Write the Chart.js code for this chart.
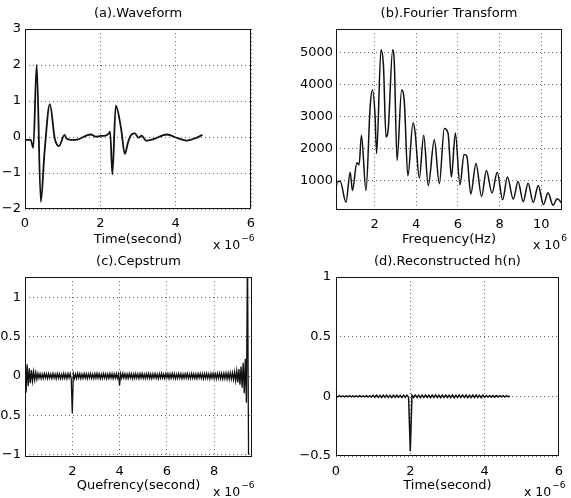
<!DOCTYPE html>
<html><head><meta charset="utf-8">
<script src="https://cdn.jsdelivr.net/npm/chart.js@4/dist/chart.umd.min.js"></script>
<style>
html,body{margin:0;padding:0;background:#fff;}
#wrap{position:relative;width:571px;height:498px;overflow:hidden;background:#fff;}
#wrap canvas{position:absolute;left:0;top:0;}
</style></head><body>
<div id="wrap">
<canvas id="ca" width="571" height="498"></canvas>
<canvas id="cb" width="571" height="498"></canvas>
<canvas id="cc" width="571" height="498"></canvas>
<canvas id="cd" width="571" height="498"></canvas>
</div>
<script>
// ---------- (a) Waveform : time in 1e-6 s ----------
const waveTime = [0, 0.15, 0.22, 0.31, 0.42, 0.52, 0.66, 0.79, 0.9, 1.05, 1.1, 1.21, 1.39, 1.74, 1.88, 2.01, 2.14, 2.23, 2.26, 2.32, 2.41, 2.55, 2.65, 2.74, 2.83, 2.92, 3.01, 3.1, 3.21, 3.41, 3.76, 4.07, 4.29, 4.51, 4.71];
const waveAmp  = [-0.08, -0.08, -0.3, 2.0, -1.8, -0.4, 0.91, -0.04, -0.25, 0.06, -0.04, -0.08, -0.07, 0.07, 0.01, 0.03, 0.04, 0.1, 0.15, -1.04, 0.87, 0.24, -0.47, -0.13, 0.07, 0.1, -0.02, 0.04, -0.1, -0.06, 0.07, -0.04, -0.1, -0.04, 0.06];
const waveXTicks = [0, 2, 4, 6];
const waveXLabels = ['0', '2', '4', '6'];
const waveYTicks = [-2, -1, 0, 1, 2, 3];
const waveYLabels = ['\u22122', '\u22121', '0', '1', '2', '3'];

// ---------- (b) Fourier Transform : frequency in 1e6 Hz ----------
const specFreq = [0.15, 0.19, 0.35, 0.63, 0.83, 0.94, 1.15, 1.26, 1.37, 1.59, 1.79, 1.9, 2.02, 2.1, 2.31, 2.43, 2.55, 2.66, 2.87, 2.95, 3.08, 3.3, 3.43, 3.6, 3.85, 3.95, 4.15, 4.36, 4.58, 4.87, 5.11, 5.35, 5.53, 5.69, 5.88, 6.1, 6.3, 6.43, 6.62, 6.87, 7.14, 7.37, 7.64, 7.89, 8.15, 8.38, 8.66, 8.89, 9.14, 9.37, 9.62, 9.86, 10.11, 10.33, 10.57, 10.77, 11.0];
const specMag  = [590, 950, 980, 320, 1265, 690, 1560, 1500, 2420, 690, 3320, 3840, 3100, 1850, 5100, 4580, 2370, 2630, 5100, 4680, 1630, 3840, 3470, 1150, 2810, 2500, 1080, 2420, 850, 2280, 900, 2630, 2480, 1110, 2490, 870, 1820, 1770, 580, 1540, 500, 1320, 610, 1260, 400, 1110, 420, 970, 340, 920, 320, 850, 250, 620, 230, 430, 290];
const specXTicks = [2, 4, 6, 8, 10];
const specXLabels = ['2', '4', '6', '8', '10'];
const specYTicks = [1000, 2000, 3000, 4000, 5000];
const specYLabels = ['1000', '2000', '3000', '4000', '5000'];

// ---------- (c) Cepstrum : one value per sample, 1/22 us apart ----------
const sampleStep = 1 / 22;
const cepValues = [
 0.33,-0.21,0.15,-0.13,0.1,-0.09,0.075,-0.065,0.055,-0.05,0.045,-0.04,
 0.032,-0.028,0.03,-0.033,0.025,-0.03,0.034,-0.024,0.028,-0.032,0.03,-0.027,0.024,-0.031,0.033,-0.026,
 0.027,-0.034,0.03,-0.025,0.029,-0.032,0.024,-0.03,0.033,-0.028,0.026,-0.033,0.03,-0.024,0.031,-0.029,
 -0.47,
 0.028,-0.031,0.026,-0.029,0.033,-0.025,0.03,-0.032,0.024,-0.028,0.031,-0.026,0.029,-0.033,0.027,-0.024,
 0.032,-0.029,0.025,-0.031,0.03,-0.027,0.034,-0.025,0.028,-0.032,0.026,-0.03,0.031,-0.024,0.029,-0.033,
 0.025,-0.028,0.032,-0.026,0.03,-0.031,0.027,-0.025,0.031,-0.029,0.026,
 -0.12,
 0.03,-0.027,0.033,-0.025,0.028,-0.031,0.026,-0.03,0.032,-0.024,0.029,-0.033,0.025,-0.028,0.031,-0.026,
 0.027,-0.032,0.03,-0.025,0.034,-0.029,0.024,-0.031,0.029,-0.026,0.032,-0.03,0.026,-0.033,0.028,-0.024,
 0.031,-0.028,0.025,-0.032,0.03,-0.027,0.033,-0.025,0.026,-0.03,0.029,-0.024,0.032,-0.031,0.027,-0.028,
 0.033,-0.025,0.028,-0.032,0.024,-0.029,0.031,-0.026,0.029,-0.033,0.026,-0.028,0.03,-0.025,0.032,-0.03,
 0.025,-0.029,0.033,-0.027,0.028,-0.031,0.026,-0.032,0.03,-0.026,0.031,-0.029,0.027,-0.034,0.029,-0.027,
 0.032,-0.03,0.028,-0.033,0.031,-0.028,0.034,-0.031,0.03,-0.034,0.033,-0.03,0.036,-0.033,0.032,-0.036,
 0.035,-0.034,0.038,-0.036,0.037,-0.039,0.04,-0.038,0.042,
 -0.045,0.05,-0.06,0.065,-0.08,0.09,-0.11,0.12,-0.15,0.17,-0.22,0.22,-0.34,
 1.6,-1.0
];
const cepXTicks = [2, 4, 6, 8];
const cepXLabels = ['2', '4', '6', '8'];
const cepYTicks = [-1, -0.5, 0, 0.5, 1];
const cepYLabels = ['\u22121', '\u22120.5', '0', '0.5', '1'];

// ---------- (d) Reconstructed h(n) : one value per sample, 1/22 us apart ----------
const hValues = [
 0.004,-0.004,0.005,-0.004,0.004,-0.005,0.004,-0.004,0.005,-0.004,0.004,-0.005,0.004,-0.004,0.005,-0.005,0.004,-0.004,0.005,-0.004,0.004,-0.005,
 0.009,-0.008,0.01,-0.009,0.008,-0.01,0.009,-0.008,0.01,-0.009,0.008,-0.01,0.009,-0.008,0.01,-0.009,0.008,-0.01,0.009,-0.008,0.01,-0.009,
 -0.46,
 0.01,-0.009,0.011,-0.01,0.009,-0.011,0.01,-0.009,0.011,-0.01,0.009,-0.011,0.01,-0.009,0.011,-0.01,0.009,-0.011,0.01,-0.009,0.011,-0.01,
 0.009,-0.01,0.01,-0.011,0.009,-0.009,0.011,-0.01,0.01,-0.009,0.011,-0.011,0.009,-0.01,0.01,-0.009,0.011,-0.01,0.009,-0.011,0.01,-0.009,
 0.007,-0.006,0.007,-0.007,0.006,-0.007,0.006,-0.006,0.006,-0.005,0.005,-0.006,0.005,-0.004,0.004
];
const hXTicks = [0, 2, 4, 6];
const hXLabels = ['0', '2', '4', '6'];
const hYTicks = [-0.5, 0, 0.5, 1];
const hYLabels = ['\u22120.5', '0', '0.5', '1'];

// ---------- rendering ----------
const FONT = 'DejaVu Sans';
const INK = '#000';

const framePlugin = {
  id: 'frame',
  afterDatasetsDraw(chart) {
    const {ctx, chartArea: a} = chart;
    ctx.save();
    ctx.strokeStyle = '#111'; ctx.lineWidth = 1;
    const l = Math.round(a.left), t = Math.round(a.top), r = Math.round(a.right), b = Math.round(a.bottom);
    ctx.strokeRect(l + 0.5, t + 0.5, r - l - 1, b - t - 1);
    ctx.restore();
  }
};
const expPlugin = {
  id: 'expLabel',
  afterDraw(chart, args, o) {
    const ctx = chart.ctx;
    ctx.save();
    ctx.fillStyle = INK; ctx.textAlign = 'left'; ctx.textBaseline = 'alphabetic';
    ctx.font = '12.5px "' + FONT + '"';
    ctx.fillText(o.base, o.x, o.y);
    const w = ctx.measureText(o.base).width;
    ctx.font = '9px "' + FONT + '"';
    ctx.fillText(o.pow, o.x + w + 1, o.y - 8);
    ctx.restore();
  }
};

function lookup(ticks, labels) {
  return v => { const i = ticks.indexOf(v); return i >= 0 ? labels[i] : ''; };
}

function axis(c) {
  return {
    type: 'linear', min: c.min, max: c.max, bounds: 'data',
    afterBuildTicks: s => { s.ticks = c.ticks.map(v => ({value: v})); },
    afterFit: s => { if (c.w !== undefined) s.width = c.w; if (c.h !== undefined) s.height = c.h; },
    ticks: { callback: lookup(c.ticks, c.labels), padding: c.pad, color: INK, autoSkip: false, maxRotation: 0,
             font: {family: FONT, size: 13, lineHeight: 1.2} },
    grid: { color: '#666', lineWidth: 1, drawTicks: false },
    border: { display: false, dash: [1, 3] },
    title: { display: !!c.title, text: c.title || '', color: INK, padding: 0,
             font: {family: FONT, size: 13, lineHeight: 1.2} }
  };
}

function make(id, o) {
  return new Chart(document.getElementById(id), {
    type: 'line',
    data: { datasets: [{ data: o.points, borderColor: '#111', borderWidth: o.lw, pointRadius: 0, fill: false,
                         tension: 0, cubicInterpolationMode: o.cubic || 'default', clip: 0 }] },
    options: {
      responsive: false, animation: false, events: [], parsing: false,
      layout: { padding: o.pad },
      plugins: {
        legend: {display: false}, tooltip: {enabled: false},
        title: { display: true, text: o.title, fullSize: false, color: INK,
                 font: {family: FONT, size: 13, weight: 'normal', lineHeight: 1.2},
                 padding: {top: 5.5, bottom: 7.9} },
        expLabel: o.exp
      },
      scales: { x: axis(o.x), y: axis(o.y) }
    },
    plugins: [framePlugin, expPlugin]
  });
}

make('ca', {
  title: '(a).Waveform', lw: 1.8, cubic: 'monotone',
  points: waveTime.map((t, i) => ({x: t, y: waveAmp[i]})),
  pad: {left: 0, top: 0, right: 320, bottom: 251},
  x: {min: 0, max: 6, ticks: waveXTicks, labels: waveXLabels, pad: 7, h: 38, title: 'Time(second)'},
  y: {min: -2, max: 3, ticks: waveYTicks, labels: waveYLabels, pad: 4, w: 25},
  exp: {x: 213, y: 249, base: 'x 10', pow: '\u22126'}
});
make('cb', {
  title: '(b).Fourier Transform', lw: 1.5, cubic: 'monotone',
  points: specFreq.map((f, i) => ({x: f, y: specMag[i]})),
  pad: {left: 296, top: 0, right: 9, bottom: 251},
  x: {min: 0.15, max: 11.0, ticks: specXTicks, labels: specXLabels, pad: 7, h: 37, title: 'Frequency(Hz)'},
  y: {min: 80, max: 5750, ticks: specYTicks, labels: specYLabels, pad: 3, w: 40},
  exp: {x: 533, y: 249, base: 'x 10', pow: '6'}
});
make('cc', {
  title: '(c).Cepstrum', lw: 1.3,
  points: cepValues.map((v, i) => ({x: i * sampleStep, y: v})),
  pad: {left: 0, top: 248, right: 319, bottom: 5},
  x: {min: 0, max: 9.6, ticks: cepXTicks, labels: cepXLabels, pad: 7, h: 36, title: 'Quefrency(second)'},
  y: {min: -1.03, max: 1.26, ticks: cepYTicks, labels: cepYLabels, pad: 4, w: 25},
  exp: {x: 213, y: 496, base: 'x 10', pow: '\u22126'}
});
make('cd', {
  title: '(d).Reconstructed h(n)', lw: 1.5,
  points: hValues.map((v, i) => ({x: i * sampleStep, y: v})),
  pad: {left: 296, top: 248, right: 10, bottom: 5},
  x: {min: 0, max: 6, ticks: hXTicks, labels: hXLabels, pad: 8, h: 37, title: 'Time(second)'},
  y: {min: -0.5, max: 1, ticks: hYTicks, labels: hYLabels, pad: 5, w: 40},
  exp: {x: 524, y: 496, base: 'x 10', pow: '\u22126'}
});
</script>
</body></html>
